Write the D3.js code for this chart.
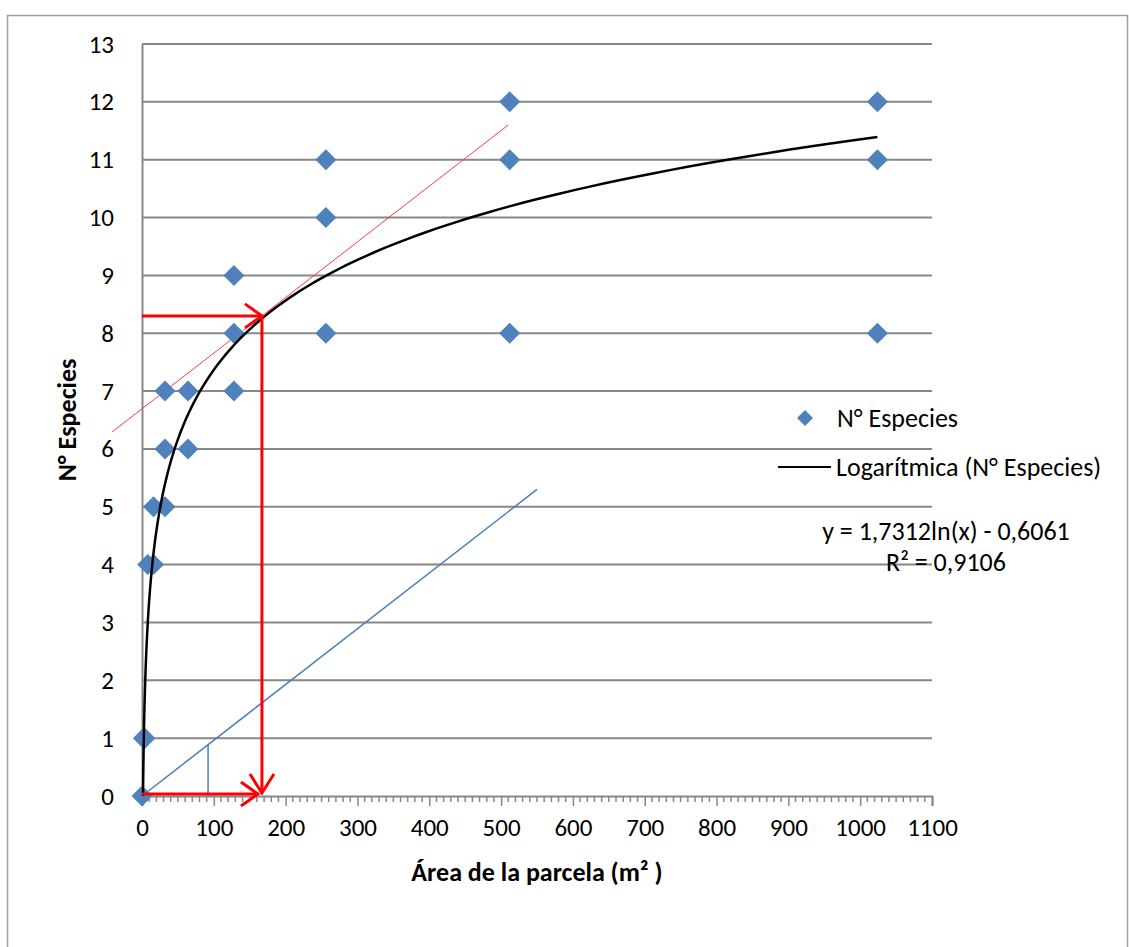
<!DOCTYPE html>
<html>
<head>
<meta charset="utf-8">
<script src="https://cdn.jsdelivr.net/npm/d3@7"></script>
<style>
  body { margin: 0; background: #fff; }
  svg text { font-family: Carlito, "Open Sans", sans-serif; fill: #000; }
</style>
</head>
<body>
<div id="app"></div>
<script>
// Data
const areas   = [0, 2, 4, 8, 16, 16, 32, 32, 32, 64, 64, 128, 128, 128, 256, 256, 256, 512, 512, 512, 1024, 1024, 1024];
const species = [0, 1, 1, 4, 4, 5, 5, 6, 7, 6, 7, 7, 8, 9, 8, 10, 11, 8, 11, 12, 8, 11, 12];
const xTicks = d3.range(0, 1101, 100);
const yTicks = d3.range(0, 14, 1);
const fitA = 1.7312, fitB = -0.6061;   // y = a ln(x) + b
const fitR2 = '0,9106';
const readPoint = [167, 8.3];          // red arrows meet here
const tangentLine = [[-42, 6.29], [510, 11.6]];
const blueLine = [[0, 0], [550, 5.3]];
const blueDropX = 92;

const W = 1129, H = 947;
const margin = {top: 44, right: 197, bottom: 151, left: 142};
const width = W - margin.left - margin.right;
const height = H - margin.top - margin.bottom;

const x = d3.scaleLinear().domain([0, 1100]).range([0, width]);
const y = d3.scaleLinear().domain([0, 13]).range([height, 0]);

const root = d3.select('#app').append('svg')
  .attr('width', W).attr('height', H);

// outer chart border
root.append('rect')
  .attr('x', 7.5).attr('y', 15.5)
  .attr('width', 1120).attr('height', 945)
  .attr('fill', 'none').attr('stroke', '#a0a0a0').attr('stroke-width', 1.5);

const svg = root.append('g')
  .attr('transform', `translate(${margin.left},${margin.top})`);

// horizontal gridlines
svg.append('g').selectAll('line')
  .data(yTicks.filter(d => d > 0))
  .join('line')
  .attr('x1', 0).attr('x2', width)
  .attr('y1', d => y(d)).attr('y2', d => y(d))
  .attr('stroke', '#878787').attr('stroke-width', 2);

// y axis
const yAxis = svg.append('g')
  .call(d3.axisLeft(y).tickValues(yTicks).tickSize(0).tickPadding(28));
yAxis.select('.domain').attr('stroke', '#878787').attr('stroke-width', 2);
yAxis.selectAll('text').style('font-size', '25px');

// x axis with minor ticks every 10
const xAxis = svg.append('g')
  .attr('transform', `translate(0,${height})`)
  .call(d3.axisBottom(x).tickValues(xTicks).tickFormat(d3.format('d')).tickSize(10).tickPadding(12));
xAxis.select('.domain').attr('stroke', '#878787').attr('stroke-width', 2);
xAxis.selectAll('.tick line').attr('stroke', '#878787').attr('stroke-width', 1.5);
xAxis.selectAll('text').style('font-size', '25px');
svg.append('g')
  .attr('transform', `translate(0,${height})`)
  .selectAll('line')
  .data(d3.range(10, 1100, 10).filter(d => d % 100 !== 0))
  .join('line')
  .attr('x1', d => x(d)).attr('x2', d => x(d))
  .attr('y1', 0).attr('y2', 6)
  .attr('stroke', '#878787').attr('stroke-width', 1.5);

// axis titles
svg.append('text')
  .attr('x', width / 2).attr('y', height + 85)
  .attr('text-anchor', 'middle')
  .style('font-size', '26px').style('font-weight', 'bold')
  .text('Área de la parcela (m² )');

svg.append('text')
  .attr('transform', 'rotate(-90)')
  .attr('x', -height / 2).attr('y', -66)
  .attr('text-anchor', 'middle')
  .style('font-size', '26px').style('font-weight', 'bold')
  .text('N° Especies');

// blue helper lines
svg.append('line')
  .attr('x1', x(blueLine[0][0])).attr('y1', y(blueLine[0][1]))
  .attr('x2', x(blueLine[1][0])).attr('y2', y(blueLine[1][1]))
  .attr('stroke', '#4a7ebb').attr('stroke-width', 1.5);
const blueSlope = (blueLine[1][1] - blueLine[0][1]) / (blueLine[1][0] - blueLine[0][0]);
svg.append('line')
  .attr('x1', x(blueDropX)).attr('y1', y(0))
  .attr('x2', x(blueDropX)).attr('y2', y(blueSlope * blueDropX))
  .attr('stroke', '#4a7ebb').attr('stroke-width', 1.5);

// red tangent line
svg.append('line')
  .attr('x1', x(tangentLine[0][0])).attr('y1', y(tangentLine[0][1]))
  .attr('x2', x(tangentLine[1][0])).attr('y2', y(tangentLine[1][1]))
  .attr('stroke', '#ff3b3b').attr('stroke-width', 1);

// scatter points
svg.append('g').selectAll('path')
  .data(areas.map((a, i) => [a, species[i]]))
  .join('path')
  .attr('transform', d => `translate(${x(d[0])},${y(d[1])})`)
  .attr('d', 'M0,-10.5L10.5,0L0,10.5L-10.5,0Z')
  .attr('fill', '#4f81bd');

// logarithmic trendline
const x0 = Math.exp(-fitB / fitA);
const fitPts = d3.range(0, 201).map(i => x0 * Math.pow(1024 / x0, i / 200));
svg.append('path')
  .datum(fitPts)
  .attr('fill', 'none').attr('stroke', '#000').attr('stroke-width', 2.5)
  .attr('d', d3.line().x(d => x(d)).y(d => y(fitA * Math.log(d) + fitB)));

// red arrows
const red = svg.append('g').attr('stroke', '#ff0000').attr('stroke-width', 3).attr('fill', 'none');
const px = x(readPoint[0]), py = y(readPoint[1]);
function arrowRight(x1, x2, yy) {
  red.append('line').attr('x1', x1).attr('x2', x2).attr('y1', yy).attr('y2', yy);
  red.append('path').attr('d', `M${x2 - 17},${yy - 12}L${x2},${yy}L${x2 - 17},${yy + 12}`);
}
arrowRight(0, px, py);
arrowRight(0, px - 4, y(0) - 2);
red.append('line').attr('x1', px).attr('x2', px).attr('y1', py).attr('y2', y(0) - 3);
red.append('path').attr('d', `M${px - 12},${y(0) - 22}L${px},${y(0) - 3}L${px + 12},${y(0) - 22}`);

// legend
const lg = root.append('g');
lg.append('path')
  .attr('transform', 'translate(805,418)')
  .attr('d', 'M0,-8L8,0L0,8L-8,0Z')
  .attr('fill', '#4f81bd');
lg.append('text').attr('x', 837).attr('y', 427).style('font-size', '26px').text('N° Especies');
lg.append('line').attr('x1', 778).attr('x2', 831).attr('y1', 467).attr('y2', 467)
  .attr('stroke', '#000').attr('stroke-width', 2);
lg.append('text').attr('x', 836).attr('y', 476).style('font-size', '26px').text('Logarítmica (N° Especies)');

// equation
const fmt = v => v.toFixed(4).replace('.', ',');
root.append('text').attr('x', 946).attr('y', 540).attr('text-anchor', 'middle')
  .style('font-size', '26px')
  .text(`y = ${fmt(fitA)}ln(x) - ${fmt(-fitB)}`);
root.append('text').attr('x', 946).attr('y', 571).attr('text-anchor', 'middle')
  .style('font-size', '26px')
  .text(`R² = ${fitR2}`);
</script>
</body>
</html>
